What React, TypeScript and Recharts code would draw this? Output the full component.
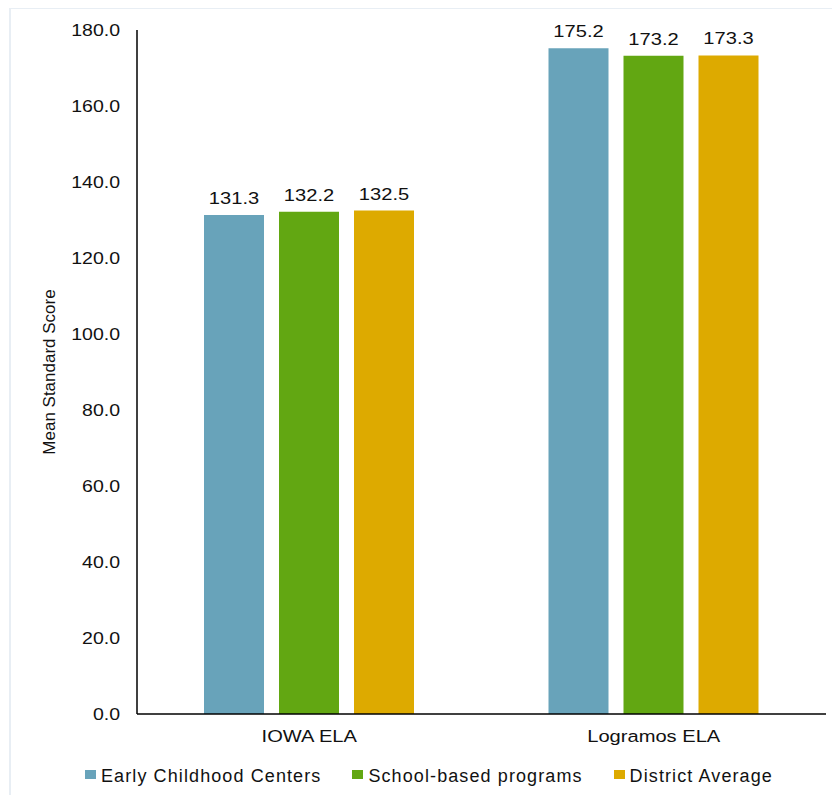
import { Bar, BarChart, Label, LabelList, Legend, XAxis, YAxis } from "recharts";

const categories = ["IOWA ELA", "Logramos ELA"];
const earlyChildhood = [131.3, 175.2];
const schoolBased = [132.2, 173.2];
const districtAverage = [132.5, 173.3];
const yTicks = [0, 20, 40, 60, 80, 100, 120, 140, 160, 180];

const SERIES = [
  { key: "early", name: "Early Childhood Centers", color: "#68a3ba" },
  { key: "school", name: "School-based programs", color: "#62a712" },
  { key: "district", name: "District Average", color: "#ddaa00" },
];

const FONT = '"Liberation Sans", Arial, sans-serif';
const TEXT = "#111";
const STRETCH = 1.22;

const data = categories.map((category, i) => ({
  category,
  early: earlyChildhood[i],
  school: schoolBased[i],
  district: districtAverage[i],
}));

function YTick({ x, y, payload }: any) {
  return (
    <text
      transform={`translate(${x},${y}) scale(${STRETCH},1)`}
      textAnchor="end"
      dy="0.35em"
      fontSize={16}
      fontFamily={FONT}
      fill={TEXT}
    >
      {Number(payload.value).toFixed(1)}
    </text>
  );
}

function XTick({ x, y, payload }: any) {
  return (
    <text
      transform={`translate(${x},${y}) scale(${STRETCH},1)`}
      textAnchor="middle"
      dy="0.71em"
      fontSize={16.5}
      fontFamily={FONT}
      fill={TEXT}
    >
      {payload.value}
    </text>
  );
}

function ValueLabel({ x, y, width, value }: any) {
  return (
    <text
      transform={`translate(${x + width / 2},${y - 11}) scale(${STRETCH},1)`}
      textAnchor="middle"
      fontSize={16.5}
      fontFamily={FONT}
      fill={TEXT}
    >
      {Number(value).toFixed(1)}
    </text>
  );
}

function YLabel({ viewBox }: any) {
  const cx = viewBox.x - 8;
  const cy = viewBox.y + viewBox.height / 2;
  return (
    <text
      transform={`translate(${cx},${cy}) rotate(-90)`}
      textAnchor="middle"
      dy="0.35em"
      fontSize={17}
      fontFamily={FONT}
      fill={TEXT}
    >
      Mean Standard Score
    </text>
  );
}

function LegendRow() {
  return (
    <div
      style={{
        height: 30,
        display: "flex",
        alignItems: "center",
        paddingLeft: 77,
        fontFamily: FONT,
        fontSize: 18,
        letterSpacing: 1.1,
        color: TEXT,
      }}
    >
      {SERIES.map((s) => (
        <div key={s.key} style={{ display: "flex", alignItems: "center", marginRight: 31 }}>
          <span
            style={{
              display: "inline-block",
              width: 11,
              height: 9,
              background: s.color,
              marginRight: 5,
              position: "relative",
              top: -2,
            }}
          />
          <span>{s.name}</span>
        </div>
      ))}
    </div>
  );
}

export default function App() {
  return (
    <div style={{ position: "relative", width: 832, height: 787 }}>
      <div
        style={{
          position: "absolute",
          left: 1,
          top: -1,
          width: 840,
          height: 800,
          borderLeft: "2px solid #e8eef4",
          borderTop: "2px solid #e8eef4",
        }}
      />
      <BarChart
        width={832}
        height={787}
        data={data}
        margin={{ top: 22, right: 14, bottom: 11, left: 49 }}
        barSize={60}
        barGap={15}
        style={{ position: "relative" }}
      >
        <XAxis
          dataKey="category"
          height={40}
          axisLine={{ stroke: "#000", strokeWidth: 1.5 }}
          tickLine={false}
          tickSize={0}
          tickMargin={16}
          tick={<XTick />}
        />
        <YAxis
          width={80}
          domain={[0, 180]}
          ticks={yTicks}
          interval={0}
          axisLine={{ stroke: "#000", strokeWidth: 1.5 }}
          tickLine={false}
          tickSize={0}
          tickMargin={17}
          tick={<YTick />}
        >
          <Label content={<YLabel />} />
        </YAxis>
        <Legend
          verticalAlign="bottom"
          content={<LegendRow />}
          wrapperStyle={{ left: 0, width: 832, bottom: 4, height: 30 }}
        />
        {SERIES.map((s) => (
          <Bar key={s.key} dataKey={s.key} name={s.name} fill={s.color} isAnimationActive={false}>
            <LabelList dataKey={s.key} content={<ValueLabel />} />
          </Bar>
        ))}
      </BarChart>
    </div>
  );
}
